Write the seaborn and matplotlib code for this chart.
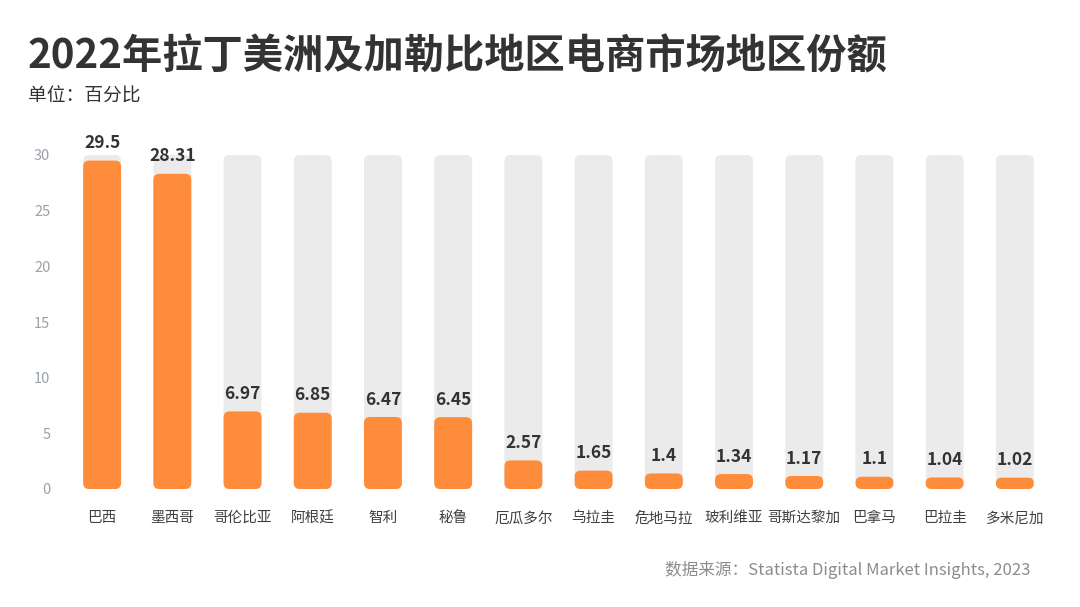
import matplotlib
matplotlib.use("Agg")
import matplotlib.pyplot as plt
import seaborn as sns
import pandas as pd
from matplotlib.patches import FancyBboxPatch

countries = ["巴西", "墨西哥", "哥伦比亚", "阿根廷", "智利", "秘鲁", "厄瓜多尔",
             "乌拉圭", "危地马拉", "玻利维亚", "哥斯达黎加", "巴拿马", "巴拉圭", "多米尼加"]
shares = [29.5, 28.31, 6.97, 6.85, 6.47, 6.45, 2.57, 1.65, 1.4, 1.34, 1.17, 1.1, 1.04, 1.02]
value_labels = ["29.5", "28.31", "6.97", "6.85", "6.47", "6.45", "2.57", "1.65", "1.4",
                "1.34", "1.17", "1.1", "1.04", "1.02"]
background_max = 30
y_ticks = [0, 5, 10, 15, 20, 25, 30]

sns.set_theme(style="white")
plt.rcParams['font.family'] = ['Noto Sans CJK SC', 'DejaVu Sans']

df = pd.DataFrame({"country": countries, "share": shares,
                   "bg": [background_max] * len(countries)})

W, H = 1080, 607
fig = plt.figure(figsize=(W / 100, H / 100), dpi=100)
left_px, right_px = 67, 1050
bottom_px, top_px = 489, 155
ax = fig.add_axes([left_px / W, 1 - bottom_px / H, (right_px - left_px) / W,
                   (bottom_px - top_px) / H])

bw = 0.54
sns.barplot(data=df, x="country", y="bg", color="#EBEBEB", width=bw, ax=ax,
            saturation=1)
sns.barplot(data=df, x="country", y="share", color="#FF8C3A", width=bw, ax=ax,
            saturation=1)

ax.set_xlim(-0.5, len(countries) - 0.5)
ax.set_ylim(0, 30)

# convert bars to rounded bars
px_per_x = (right_px - left_px) / len(countries)
px_per_y = (bottom_px - top_px) / 30
aspect = px_per_x / px_per_y
radius_px = 6
patches = list(ax.patches)
for p in patches:
    x, y = p.get_x(), p.get_y()
    w, h = p.get_width(), p.get_height()
    fc = p.get_facecolor()
    p.remove()
    r = min(radius_px / px_per_x, w / 2, (h * px_per_y / 2) / px_per_x)
    fb = FancyBboxPatch((x, y), w, h,
                        boxstyle=f"round,pad=0,rounding_size={r}",
                        mutation_aspect=aspect,
                        facecolor=fc, edgecolor="none", linewidth=0)
    ax.add_patch(fb)

for i, (v, lab) in enumerate(zip(shares, value_labels)):
    ax.annotate(lab, (i, v), xytext=(0, 6), textcoords="offset points",
                ha="center", va="bottom", fontsize=12.5, fontweight="bold",
                color="#333333", annotation_clip=False)

ax.set_yticks(y_ticks)
ax.set_yticklabels([str(t) for t in y_ticks])
ax.tick_params(axis="y", labelsize=10.5, length=0, pad=12)
ax.tick_params(axis="x", labelsize=10.5, length=0, pad=16)
for lab in ax.get_yticklabels():
    lab.set_color("#9AA0A8")
for lab in ax.get_xticklabels():
    lab.set_color("#404040")
ax.set_xlabel("")
ax.set_ylabel("")
for s in ax.spines.values():
    s.set_visible(False)
ax.grid(False)

fig.text(28 / W, 1 - 57 / H, "2022年拉丁美洲及加勒比地区电商市场地区份额",
         fontsize=29, fontweight="bold", color="#333333", ha="left", va="center")
fig.text(28 / W, 1 - 96 / H, "单位：百分比", fontsize=13.5, color="#333333",
         ha="left", va="center")
fig.text(1030 / W, 1 - 570 / H, "数据来源：Statista Digital Market Insights, 2023",
         fontsize=12, color="#8C8C8C", ha="right", va="center")

fig.savefig("out.png", dpi=100, facecolor="white")
